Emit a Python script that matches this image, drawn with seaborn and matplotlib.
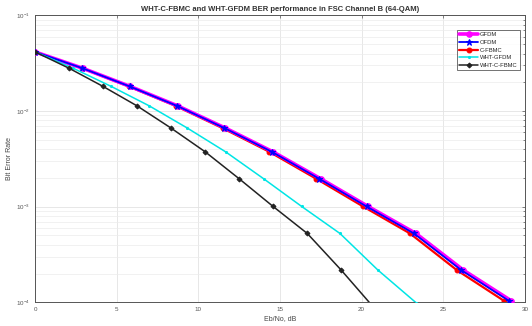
import numpy as np
import pandas as pd
import matplotlib
matplotlib.use("Agg")
import matplotlib.pyplot as plt
import seaborn as sns
from matplotlib.ticker import LogLocator, NullFormatter, FixedLocator

# ---- data ----
ber_common = [0.0416, 0.0281, 0.0181, 0.01133, 0.00664, 0.00375, 0.00196,
              0.001005, 0.000525, 0.000217]
ber_last_cfbmc = 0.000104
ber_last_wht_gfdm = 0.0000990
ber_last_wht_cfbmc = 0.0000847

ebno_gfdm = [0, 2.91, 5.83, 8.74, 11.66, 14.57, 17.49, 20.40, 23.32, 26.23, 29.15]
ebno_ofdm = [0, 2.90, 5.80, 8.70, 11.60, 14.50, 17.40, 20.30, 23.20, 26.10, 29.00]
ebno_cfbmc = [0, 2.87, 5.74, 8.61, 11.48, 14.35, 17.22, 20.09, 22.96, 25.83, 28.70]
ebno_wht_gfdm = [0, 2.33, 4.67, 7.00, 9.33, 11.67, 14.00, 16.33, 18.67, 21.00, 23.33]
ebno_wht_cfbmc = [0, 2.08, 4.17, 6.25, 8.33, 10.42, 12.50, 14.58, 16.67, 18.75, 20.83]

series_names = ["GFDM", "OFDM", "C-FBMC", "WHT-GFDM", "WHT-C-FBMC"]
series_x = [ebno_gfdm, ebno_ofdm, ebno_cfbmc, ebno_wht_gfdm, ebno_wht_cfbmc]
series_y = [ber_common + [ber_last_cfbmc], ber_common + [ber_last_cfbmc],
            ber_common + [ber_last_cfbmc], ber_common + [ber_last_wht_gfdm],
            ber_common + [ber_last_wht_cfbmc]]

x_ticks = [0, 5, 10, 15, 20, 25, 30]
title = "WHT-C-FBMC and WHT-GFDM BER performance in FSC Channel B (64-QAM)"

# ---- styles ----
styles = {
    "GFDM": dict(color="#ff00ff", marker="o", lw=2.6, ms=4, z=3),
    "OFDM": dict(color="#0000ff", marker="*", lw=1.3, ms=5, z=4),
    "C-FBMC": dict(color="#ff0000", marker="o", lw=1.6, ms=3.5, z=2),
    "WHT-GFDM": dict(color="#00e5e5", marker=".", lw=1.1, ms=3, z=5),
    "WHT-C-FBMC": dict(color="#222222", marker="D", lw=1.1, ms=2.5, z=6),
}

sns.set_style("white")
plt.rcParams["font.family"] = ["Liberation Sans", "DejaVu Sans"]

fig = plt.figure(figsize=(5.32, 3.26), dpi=100)
ax = fig.add_axes([0.0658, 0.0727, 0.921, 0.8798])

for name, xs, ys in zip(series_names, series_x, series_y):
    st = styles[name]
    df = pd.DataFrame({"x": xs, "y": ys})
    sns.lineplot(data=df, x="x", y="y", ax=ax, color=st["color"],
                 marker=st["marker"], markersize=st["ms"], linewidth=st["lw"],
                 markeredgecolor=st["color"], label=name, sort=False,
                 estimator=None, zorder=st["z"])

ax.set_yscale("log")
ax.set_xlim(0, 30)
ax.set_ylim(1e-4, 1e-1)
ax.xaxis.set_major_locator(FixedLocator(x_ticks))
ax.set_xticklabels([str(t) for t in x_ticks])
ax.yaxis.set_major_locator(LogLocator(base=10, numticks=10))
ax.yaxis.set_minor_locator(LogLocator(base=10, subs=np.arange(2, 10), numticks=10))
ax.yaxis.set_minor_formatter(NullFormatter())

ax.grid(True, which="major", color="#e3e3e3", lw=0.6)
ax.grid(True, which="minor", axis="y", color="#ececec", lw=0.5)
ax.set_axisbelow(True)

for sp in ax.spines.values():
    sp.set_visible(True)
    sp.set_color("#555555")
    sp.set_linewidth(0.7)

ax.tick_params(which="both", direction="in", top=True, right=True,
               labelsize=4.5, colors="#555555", length=2.5, width=0.5)
ax.tick_params(which="minor", length=1.5)

ax.set_xlabel("Eb/No, dB", fontsize=5, color="#444444", labelpad=2)
ax.set_ylabel("Bit Error Rate", fontsize=5, color="#444444", labelpad=2)
ax.set_title(title, fontsize=5.5, fontweight="bold", color="#333333", pad=3)

leg = ax.legend(loc="upper right", fontsize=4.2, frameon=True, fancybox=False,
                edgecolor="#333333", handlelength=3.2, borderpad=0.4,
                labelspacing=0.45, handletextpad=0.3,
                bbox_to_anchor=(0.995, 0.96))
leg.get_frame().set_linewidth(0.6)
leg.set_zorder(10)

fig.savefig("out.png", dpi=100)
